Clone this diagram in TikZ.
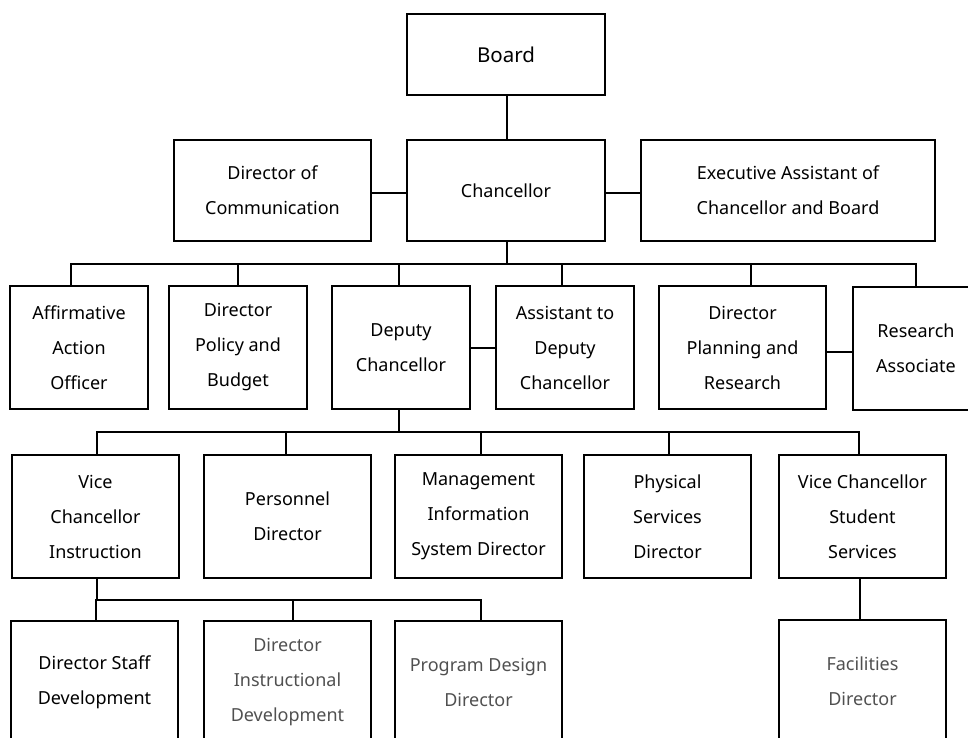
\documentclass[tikz,border=0pt]{standalone}
\usepackage{fontspec}
\setmainfont{Noto Sans}
\usepackage{xcolor}
\usepackage{tikz}

\definecolor{softtext}{RGB}{80,80,80}

\begin{document}
\begin{tikzpicture}[x=1pt,y=-1pt,
        box/.style={draw,line width=2.6pt,align=center,inner sep=0pt,
            font=\fontsize{18}{35}\selectfont,minimum height=123pt},
        narrow/.style={minimum width=138pt},
        wide/.style={minimum width=167pt},
        faint/.style={text=softtext},
        link/.style={line width=2.6pt}]
    % Page size, the lowest boxes are cut off by the border
    \useasboundingbox (0,0) rectangle (968,738);
    \clip (0,0) rectangle (968,738);

    % Top:
    \node [box,minimum width=198pt,minimum height=81pt,font=\fontsize{20.5}{35}\selectfont] (board) at (506,54.5) {Board};
    \node [box,minimum width=198pt,minimum height=101pt] (chan) at (506,190.5) {Chancellor};
    \node [box,minimum width=197pt,minimum height=101pt] (comm) at (272.5,190.5) {Director of\\Communication};
    \node [box,minimum width=294pt,minimum height=101pt] (exec) at (788,190.5) {Executive Assistant of\\Chancellor and Board};

    % Second row:
    \node [box,narrow] (aff)      at (79,347.5)    {Affirmative\\Action\\Officer};
    \node [box,narrow] (policy)   at (238,347.5)   {Director\\Policy and\\Budget};
    \node [box,narrow] (deputy)   at (401,347.5)   {Deputy\\Chancellor};
    \node [box,narrow] (assist)   at (565,347.5)   {Assistant to\\Deputy\\Chancellor};
    \node [box,wide]   (planning) at (742.5,347.5) {Director\\Planning and\\Research};
    \node [box,minimum width=126pt] (research) at (916,348.5) {Research\\Associate};

    % Third row:
    \node [box,wide] (vci)  at (95.5,516.5)  {Vice\\Chancellor\\Instruction};
    \node [box,wide] (pers) at (287.5,516.5) {Personnel\\Director};
    \node [box,wide] (mis)  at (478.5,516.5) {Management\\Information\\System Director};
    \node [box,wide] (phys) at (667.5,516.5) {Physical\\Services\\Director};
    \node [box,wide] (vcs)  at (862.5,516.5) {Vice Chancellor\\Student\\Services};

    % Fourth row:
    \node [box,wide]       (staff) at (94.5,682.5)  {Director Staff\\Development};
    \node [box,wide,faint] (instr) at (287.5,682.5) {Director\\Instructional\\Development};
    \node [box,wide,faint] (prog)  at (478.5,682.5) {Program Design\\Director};
    \node [box,wide,faint] (fac)   at (862.5,681.5) {Facilities\\Director};

    % Connectors:
    \draw [link] ([xshift=1pt]board.south) -- ([xshift=1pt]chan.north);
    \draw [link] ([yshift=-2.5pt]comm.east) -- ([yshift=-2.5pt]chan.west);
    \draw [link] ([yshift=-2.5pt]chan.east) -- ([yshift=-2.5pt]exec.west);
    \draw [link] ([yshift=-0.5pt]deputy.east) -- ([yshift=-0.5pt]assist.west);
    \draw [link] ([yshift=-4.5pt]planning.east) -- ([yshift=-4.5pt]planning.east -| research.west);
    \draw [link] ([xshift=-2.5pt]vcs.south) -- ([xshift=-2.5pt]fac.north);

    % Buses:
    \coordinate (bus1) at (507,264);
    \coordinate (bus2) at (399,432);
    \coordinate (bus3) at (97,600);
    \draw [link] ([xshift=1pt]chan.south) -- (bus1);
    \foreach \n/\dx in {aff/-8,policy/0,deputy/-2,assist/-3,planning/8.5,research/0}{%
        \draw [link] (bus1) -| ([xshift=\dx pt]\n.north);
    }
    \draw [link] ([xshift=-2pt]deputy.south) -- (bus2);
    \foreach \n/\dx in {vci/1.5,pers/-1.5,mis/2.5,phys/1.5,vcs/-3.5}{%
        \draw [link] (bus2) -| ([xshift=\dx pt]\n.north);
    }
    \draw [link] ([xshift=1.5pt]vci.south) -- (bus3);
    \foreach \n/\dx in {staff/1.5,instr/5.5,prog/2.5}{%
        \draw [link] (bus3) -| ([xshift=\dx pt]\n.north);
    }
\end{tikzpicture}
\end{document}
